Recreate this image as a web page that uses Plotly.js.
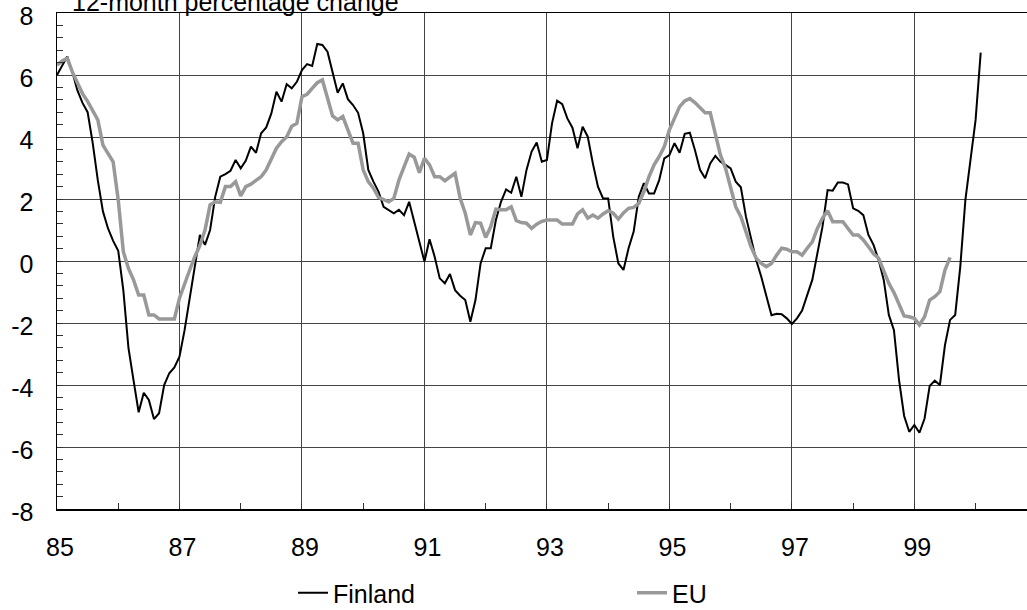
<!DOCTYPE html>
<html>
<head>
<meta charset="utf-8">
<script src="https://cdn.plot.ly/plotly-3.0.1.min.js"></script>
<style>html,body{margin:0;padding:0;background:#fff;}#chart{width:1027px;height:610px;}</style>
</head>
<body>
<div id="chart"></div>
<script>
// Monthly 12-month percentage change, starting January 1985
const startYear = 85;
const finland = [
 6.0, 6.3, 6.6, 6.1, 5.5, 5.1, 4.8, 3.8, 2.6, 1.6, 1.05, 0.65,
 0.33, -0.95, -2.8, -3.85, -4.88, -4.25, -4.48, -5.1, -4.91, -4.0, -3.62, -3.43,
 -3.09, -2.23, -1.2, -0.1, 0.84, 0.52, 1.0, 2.07, 2.72, 2.8, 2.91, 3.26,
 2.99, 3.24, 3.69, 3.49, 4.12, 4.31, 4.76, 5.46, 5.14, 5.7, 5.57, 5.78,
 6.16, 6.35, 6.29, 7.0, 6.97, 6.75, 6.11, 5.43, 5.73, 5.22, 5.03, 4.78,
 4.12, 2.94, 2.56, 2.24, 1.75, 1.65, 1.54, 1.65, 1.48, 1.91, 1.27, 0.55,
 -0.02, 0.70, 0.14, -0.56, -0.72, -0.42, -0.94, -1.12, -1.26, -1.96, -1.26, -0.08,
 0.41, 0.41, 1.32, 1.91, 2.31, 2.20, 2.72, 2.07, 2.94, 3.53, 3.82, 3.20,
 3.26, 4.44, 5.17, 5.06, 4.60, 4.30, 3.64, 4.33, 4.01, 3.15, 2.40, 2.02,
 2.02, 0.78, -0.08, -0.29, 0.41, 0.95, 2.07, 2.51, 2.18, 2.18, 2.61, 3.31,
 3.42, 3.80, 3.49, 4.10, 4.14, 3.58, 2.94, 2.67, 3.15, 3.39, 3.20, 3.10,
 2.99, 2.56, 2.38, 1.43, 0.68, 0.03, -0.51, -1.15, -1.75, -1.70, -1.72, -1.85,
 -2.03, -1.85, -1.6, -1.10, -0.61, 0.25, 1.11, 2.29, 2.27, 2.53, 2.53, 2.47,
 1.70, 1.62, 1.48, 0.84, 0.52, 0.03, -0.61, -1.74, -2.23, -3.84, -5.0, -5.51,
 -5.29, -5.54, -5.08, -4.03, -3.86, -4.0, -2.71, -1.90, -1.74, -0.18, 1.97, 3.26,
 4.55, 6.72
];
const eu = [
 6.32, 6.45, 6.54, 6.1, 5.75, 5.4, 5.15, 4.85, 4.55, 3.74, 3.45, 3.2,
 1.97, 0.3, -0.24, -0.61, -1.10, -1.10, -1.74, -1.74, -1.87, -1.87, -1.87, -1.87,
 -1.2, -0.72, -0.29, 0.14, 0.5, 1.0, 1.81, 1.91, 1.89, 2.40, 2.40, 2.56,
 2.10, 2.40, 2.48, 2.6, 2.72, 2.94, 3.26, 3.64, 3.85, 4.0, 4.35, 4.44,
 5.30, 5.38, 5.57, 5.75, 5.84, 5.30, 4.68, 4.55, 4.66, 4.23, 3.80, 3.80,
 2.94, 2.56, 2.35, 2.05, 1.97, 1.91, 2.02, 2.61, 3.04, 3.45, 3.35, 2.85,
 3.31, 3.10, 2.72, 2.72, 2.59, 2.72, 2.83, 2.02, 1.54, 0.84, 1.24, 1.22,
 0.76, 1.11, 1.67, 1.65, 1.65, 1.75, 1.30, 1.24, 1.22, 1.05, 1.19, 1.28,
 1.32, 1.32, 1.32, 1.19, 1.19, 1.19, 1.52, 1.65, 1.38, 1.48, 1.38, 1.52,
 1.62, 1.54, 1.35, 1.55, 1.70, 1.73, 1.86, 2.24, 2.72, 3.10, 3.37, 3.69,
 4.23, 4.60, 4.98, 5.16, 5.24, 5.11, 4.96, 4.78, 4.78, 4.12, 3.42, 2.99,
 2.40, 1.75, 1.43, 0.95, 0.46, 0.09, -0.08, -0.18, -0.08, 0.19, 0.41, 0.38,
 0.30, 0.30, 0.19, 0.41, 0.62, 1.05, 1.38, 1.62, 1.27, 1.27, 1.27, 1.05,
 0.84, 0.84, 0.68, 0.46, 0.23, 0.09, -0.29, -0.72, -1.02, -1.42, -1.77, -1.8,
 -1.85, -2.06, -1.80, -1.26, -1.15, -0.99, -0.29, 0.12
];
const xTickVals = [85, 87, 89, 91, 93, 95, 97, 99];
const xTickText = ["85", "87", "89", "91", "93", "95", "97", "99"];
const yTickVals = [-8, -6, -4, -2, 0, 2, 4, 6, 8];
const yTickText = ["-8", "-6", "-4", "-2", "0", "2", "4", "6", "8"];
const seriesNames = ["Finland", "EU"];
const titleText = "12-month percentage change";

const monthX = arr => arr.map((_, i) => startYear + i / 12);

const font = "Liberation Sans, Arial, sans-serif";
const traces = [
  {x: monthX(finland), y: finland, name: seriesNames[0], type: "scatter", mode: "lines",
   line: {color: "#000000", width: 2}},
  {x: monthX(eu), y: eu, name: seriesNames[1], type: "scatter", mode: "lines",
   line: {color: "#999999", width: 3.5}}
];

const W = 1027, H = 610, L = 57, T = 13, B = 101;
const pxPerYear = 61.24;
const xMax = startYear + (W - L) / pxPerYear;

const layout = {
  width: W, height: H,
  margin: {l: L, r: 0, t: T, b: B, pad: 0},
  paper_bgcolor: "#ffffff", plot_bgcolor: "#ffffff",
  font: {family: font, size: 25, color: "#000000"},
  showlegend: true,
  legend: {orientation: "h", xref: "container", yref: "container",
    x: 0.2853, y: 1 - 593 / 610, xanchor: "left", yanchor: "middle",
    entrywidth: 294, entrywidthmode: "pixels",
    font: {family: font, size: 25, color: "#000000"}, bgcolor: "rgba(0,0,0,0)"},
  xaxis: {range: [startYear, xMax], tickmode: "array", tickvals: xTickVals, ticktext: xTickText,
    showgrid: true, gridcolor: "#444444", gridwidth: 1, zeroline: false,
    showline: true, linecolor: "#000000", linewidth: 1.5, mirror: true,
    ticks: "inside", ticklen: 6, tickcolor: "#333333", tickwidth: 1,
    minor: {dtick: 1, tick0: 85, ticks: "inside", ticklen: 6, tickcolor: "#333333", showgrid: false},
    ticklabelstandoff: 15, ticklabelshift: 3, ticklabeloverflow: "allow",
    tickfont: {family: font, size: 25, color: "#000000"}},
  yaxis: {range: [-8, 8], tickmode: "array", tickvals: yTickVals, ticktext: yTickText,
    showgrid: true, gridcolor: "#444444", gridwidth: 1, zeroline: false,
    showline: true, linecolor: "#000000", linewidth: 1.5,
    ticks: "inside", ticklen: 6, tickcolor: "#333333", tickwidth: 1,
    minor: {dtick: 0.4, tick0: -8, ticks: "inside", ticklen: 6, tickcolor: "#333333", showgrid: false},
    ticklabelstandoff: 17, ticklabelshift: 3, ticklabeloverflow: "allow",
    tickfont: {family: font, size: 25, color: "#000000"}},
  annotations: [{text: titleText, xref: "paper", yref: "paper", x: 13 / 970, y: 1,
    xanchor: "left", yanchor: "bottom", showarrow: false, yshift: -5,
    font: {family: font, size: 25, color: "#000000"}}]
};

Plotly.newPlot("chart", traces, layout, {staticPlot: true, displayModeBar: false});
</script>
</body>
</html>
